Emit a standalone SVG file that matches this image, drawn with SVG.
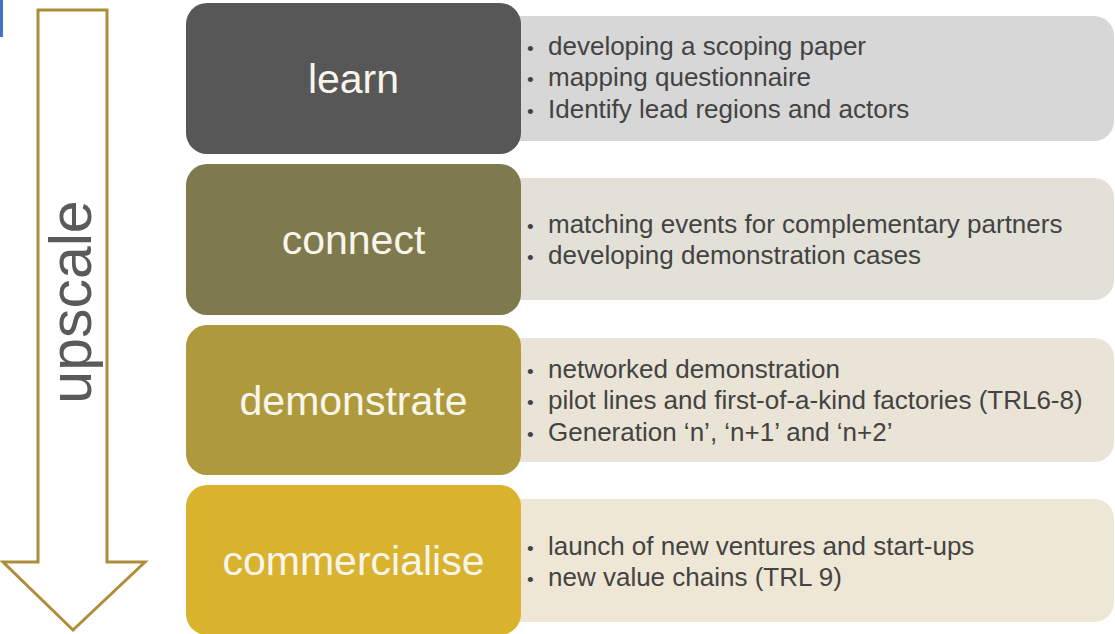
<svg xmlns="http://www.w3.org/2000/svg" width="1115" height="634" viewBox="0 0 1115 634">
<style>
.stage{font-family:"Liberation Sans",Arial,sans-serif;font-size:41px;fill:#f8f6ec;text-anchor:middle}
.item{font-family:"Liberation Sans",Arial,sans-serif;font-size:26px;fill:#434343}
.b{font-size:19px}
.side{font-family:"Liberation Sans",Arial,sans-serif;font-size:59px;fill:#5a5a5a;text-anchor:middle}
</style>
<rect width="1115" height="634" fill="#ffffff"/>
<rect x="0" y="0" width="3" height="37" fill="#4472c4"/>
<g id="upscale-arrow">
<path d="M38,10 H107 V562 H145 L73,630 L3,562 H38 Z" fill="#ffffff" stroke="#ad8e3b" stroke-width="3" stroke-linejoin="miter"/>
<text class="side" transform="translate(91,302) rotate(-90)">upscale</text>
</g>
<g id="learn">
<rect x="490" y="16" width="624" height="125" rx="20" fill="#d7d7d7"/>
<rect x="186" y="3" width="335" height="151" rx="21" fill="#575757"/>
<text class="stage" x="353.5" y="93">learn</text>
<text class="item" x="527" y="54.5"><tspan class="b">•</tspan><tspan x="548">developing a scoping paper</tspan></text>
<text class="item" x="527" y="86"><tspan class="b">•</tspan><tspan x="548">mapping questionnaire</tspan></text>
<text class="item" x="527" y="117.5"><tspan class="b">•</tspan><tspan x="548">Identify lead regions and actors</tspan></text>
</g>
<g id="connect">
<rect x="490" y="178" width="624" height="122" rx="20" fill="#e2e0d7"/>
<rect x="186" y="164" width="335" height="151" rx="21" fill="#7f7a4d"/>
<text class="stage" x="353.5" y="254">connect</text>
<text class="item" x="527" y="232.5"><tspan class="b">•</tspan><tspan x="548">matching events for complementary partners</tspan></text>
<text class="item" x="527" y="263.5"><tspan class="b">•</tspan><tspan x="548">developing demonstration cases</tspan></text>
</g>
<g id="demonstrate">
<rect x="490" y="338" width="624" height="124" rx="20" fill="#e9e4d6"/>
<rect x="186" y="325" width="335" height="150" rx="21" fill="#ae9a3c"/>
<text class="stage" x="353.5" y="414.5">demonstrate</text>
<text class="item" x="527" y="377.5"><tspan class="b">•</tspan><tspan x="548">networked demonstration</tspan></text>
<text class="item" x="527" y="409"><tspan class="b">•</tspan><tspan x="548">pilot lines and first-of-a-kind factories (TRL6-8)</tspan></text>
<text class="item" x="527" y="440.5"><tspan class="b">•</tspan><tspan x="548">Generation ‘n’, ‘n+1’ and ‘n+2’</tspan></text>
</g>
<g id="commercialise">
<rect x="490" y="499" width="624" height="123" rx="20" fill="#efe7d5"/>
<rect x="186" y="485" width="335" height="150" rx="21" fill="#d9b22e"/>
<text class="stage" x="353.5" y="575">commercialise</text>
<text class="item" x="527" y="554.5"><tspan class="b">•</tspan><tspan x="548">launch of new ventures and start-ups</tspan></text>
<text class="item" x="527" y="585.5"><tspan class="b">•</tspan><tspan x="548">new value chains (TRL 9)</tspan></text>
</g>
<g id="connectors"></g>
</svg>
